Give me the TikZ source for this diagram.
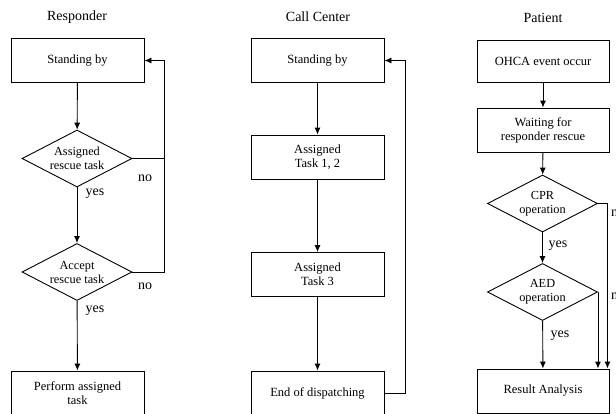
\documentclass[tikz,border=0pt]{standalone}
\usepackage{fontspec}
\setmainfont{Liberation Serif}
\usetikzlibrary{shapes.geometric,arrows.meta}
\begin{document}
\begin{tikzpicture}[x=1pt,y=-1pt,
  box/.style={draw,line width=0.9pt,rectangle,minimum width=133pt,minimum height=44pt,inner sep=0pt,align=center,font=\fontsize{12.5}{14}\selectfont},
  dia/.style={draw,line width=0.9pt,diamond,aspect=1.93,minimum width=110pt,minimum height=57pt,inner sep=0pt,align=center,font=\fontsize{12.3}{14}\selectfont},
  ttl/.style={font=\fontsize{14}{16}\selectfont,inner sep=0pt},
  lbl/.style={font=\fontsize{14}{16}\selectfont,inner sep=0pt},
  arr/.style={line width=0.9pt,-{Latex[length=7pt,width=6pt]}},
  ln/.style={line width=0.9pt}]
\useasboundingbox (0,0) rectangle (616,413);
\begin{scope}
\clip (0,0) rectangle (616,413);
% titles
\node[ttl] (t1) at (77,17) {Responder};
\node[ttl] (t2) at (318,17) {Call Center};
\node[ttl] (t3) at (543,18) {Patient};
% Responder
\node[box] (r1) at (77.5,60.5) {Standing by};
\node[dia] (rd1) at (77,158.5) {Assigned\\rescue task};
\node[dia] (rd2) at (77,272) {Accept\\rescue task};
\node[box] (r3) at (77.5,393) {Perform assigned\\task};
\coordinate (rloop) at (164,60.5);
\draw[arr] (r1) -- (rd1);
\draw[arr] (rd1) -- (rd2);
\draw[arr] (rd2) -- (r3);
\draw[arr] (rd1.east) -| (rloop) -- (r1.east);
\draw[ln] (rd2.east) -| (rloop);
\node[lbl] (n1) at (145,178) {no};
\node[lbl] (n2) at (145,286) {no};
\node[lbl] (y1) at (95,194) {yes};
\node[lbl] (y2) at (95,311) {yes};
% Call center
\node[box] (c1) at (317.5,60.5) {Standing by};
\node[box] (c2) at (317.5,157) {Assigned\\Task 1, 2};
\node[box] (c3) at (317.5,274.5) {Assigned\\Task 3};
\node[box] (c4) at (317.5,393) {End of dispatching};
\coordinate (cloop) at (405,60.5);
\draw[arr] (c1) -- (c2);
\draw[arr] (c2) -- (c3);
\draw[arr] (c3) -- (c4);
\draw[arr] (c4.east) -| (cloop) -- (c1.east);
% Patient
\node[box,minimum width=132pt,minimum height=42pt] (p1) at (543,61) {OHCA event occur};
\node[box,minimum width=132pt] (p2) at (543,130) {Waiting for\\responder rescue};
\node[dia] (pd1) at (542.5,203.5) {CPR\\operation};
\node[dia] (pd2) at (542.5,292) {AED\\operation};
\node[box,minimum width=132pt] (p3) at (543,391) {Result Analysis};
\coordinate (pn1) at ([xshift=-2pt]p3.north east);
\draw[arr] (p1) -- (p2);
\draw[arr] (p2) -- (pd1);
\draw[arr] (pd1) -- (pd2);
\draw[arr] (pd2) -- (p3);
\draw[arr] (pd1.east) -| (pn1);
\draw[arr] (pd2.east) -- (pd2.east |- p3.north);
\node[lbl,anchor=west] (n3) at (611,213) {no};
\node[lbl,anchor=west] (n4) at (611,296) {no};
\node[lbl] (y3) at (558,246) {yes};
\node[lbl] (y4) at (560,336) {yes};
\end{scope}
\end{tikzpicture}
\end{document}
